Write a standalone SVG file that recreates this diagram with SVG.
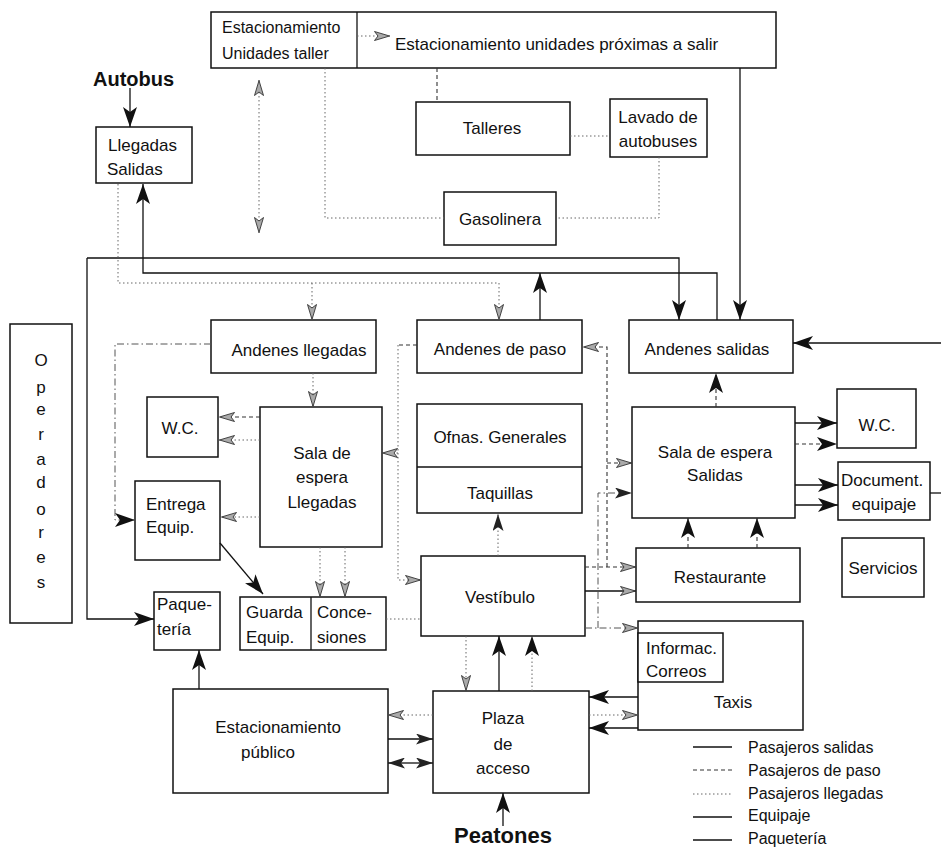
<svg xmlns="http://www.w3.org/2000/svg" width="941" height="850" viewBox="0 0 941 850">
<style>
text{font-family:"Liberation Sans",Arial,sans-serif;font-size:17px;fill:#111}
.c{text-anchor:middle}
.bold{font-weight:bold}
.lg{font-size:16px}
.box{fill:#fff;stroke:#111;stroke-width:1.5}
.sep{stroke:#111;stroke-width:1.3;fill:none}
.sol{stroke:#111;stroke-width:1.3;fill:none}
.dot{stroke:#666;stroke-width:1;fill:none;stroke-dasharray:1.5 2.5}
.dsh{stroke:#333;stroke-width:1.1;fill:none;stroke-dasharray:4 3}
.dd{stroke:#555;stroke-width:1;fill:none;stroke-dasharray:7 3 1.5 3}
</style>
<defs>
<marker id="b" viewBox="0 0 20 14" refX="20" refY="7" markerWidth="20" markerHeight="14" orient="auto" markerUnits="userSpaceOnUse"><path d="M0,0 L20,7 L0,14 L5,7 z" fill="#111"/></marker>
<marker id="s" viewBox="0 0 17 11" refX="17" refY="5.5" markerWidth="17" markerHeight="11" orient="auto" markerUnits="userSpaceOnUse"><path d="M0,0 L17,5.5 L0,11 L4,5.5 z" fill="#222"/></marker>
<marker id="l" viewBox="0 0 16 10" refX="16" refY="5" markerWidth="16" markerHeight="10" orient="auto" markerUnits="userSpaceOnUse"><path d="M0.5,0.5 L15.5,5 L0.5,9.5 L4,5 z" fill="#aaa" stroke="#333" stroke-width="0.9"/></marker>
<marker id="lr" viewBox="0 0 16 10" refX="0" refY="5" markerWidth="16" markerHeight="10" orient="auto" markerUnits="userSpaceOnUse"><path d="M15.5,0.5 L0.5,5 L15.5,9.5 L12,5 z" fill="#aaa" stroke="#333" stroke-width="0.9"/></marker>
</defs>

<g id="top-parking">
<rect class="box" x="211" y="12" width="565" height="56"/>
<line class="sep" x1="357" y1="12" x2="357" y2="68"/>
<text x="222" y="33" style="font-size:16px">Estacionamiento</text>
<text x="222" y="59" style="font-size:16px">Unidades taller</text>
<text x="395" y="50">Estacionamiento unidades próximas a salir</text>
</g>
<g id="autobus"><text class="bold" x="93" y="86" style="font-size:20px">Autobus</text></g>
<g id="llegadas-salidas">
<rect class="box" x="96" y="127" width="96" height="56"/>
<text x="108" y="151">Llegadas</text>
<text x="107" y="175">Salidas</text>
</g>
<g id="talleres"><rect class="box" x="416" y="102" width="154" height="53"/><text class="c" x="492" y="134">Talleres</text></g>
<g id="lavado"><rect class="box" x="610" y="99" width="97" height="58"/><text class="c" x="658" y="123">Lavado de</text><text class="c" x="658" y="147">autobuses</text></g>
<g id="gasolinera"><rect class="box" x="444" y="192" width="112" height="53"/><text class="c" x="500" y="225">Gasolinera</text></g>

<g id="operadores">
<rect class="box" x="10" y="324" width="62" height="299"/>
<text class="c" x="41" y="366">O</text><text class="c" x="41" y="393">p</text><text class="c" x="41" y="415">e</text><text class="c" x="41" y="440">r</text><text class="c" x="41" y="465">a</text><text class="c" x="41" y="488">d</text><text class="c" x="41" y="515">o</text><text class="c" x="41" y="538">r</text><text class="c" x="41" y="563">e</text><text class="c" x="41" y="588">s</text>
</g>

<g id="andenes-llegadas"><rect class="box" x="211" y="320" width="165" height="53"/><text class="c" x="299" y="356">Andenes llegadas</text></g>
<g id="andenes-paso"><rect class="box" x="417" y="320" width="165" height="53"/><text class="c" x="500" y="355">Andenes de paso</text></g>
<g id="andenes-salidas"><rect class="box" x="629" y="320" width="164" height="53"/><text class="c" x="707" y="355">Andenes salidas</text></g>

<g id="wc-left"><rect class="box" x="147" y="397" width="71" height="60"/><text class="c" x="180" y="434">W.C.</text></g>
<g id="sala-llegadas"><rect class="box" x="260" y="407" width="122" height="140"/><text class="c" x="322" y="459">Sala de</text><text class="c" x="322" y="483">espera</text><text class="c" x="322" y="508">Llegadas</text></g>
<g id="entrega"><rect class="box" x="135" y="481" width="85" height="79"/><text x="146" y="510">Entrega</text><text x="146" y="533">Equip.</text></g>

<g id="ofnas-taquillas"><rect class="box" x="417" y="404" width="165" height="109"/><line class="sep" x1="417" y1="467" x2="582" y2="467"/><text class="c" x="500" y="443">Ofnas. Generales</text><text class="c" x="500" y="499">Taquillas</text></g>
<g id="vestibulo"><rect class="box" x="421" y="556" width="164" height="80"/><text class="c" x="500" y="603">Vestíbulo</text></g>

<g id="sala-salidas"><rect class="box" x="632" y="407" width="163" height="111"/><text class="c" x="715" y="458">Sala de espera</text><text class="c" x="715" y="481">Salidas</text></g>
<g id="wc-right"><rect class="box" x="837" y="389" width="79" height="59"/><text class="c" x="877" y="431">W.C.</text></g>
<g id="document"><rect class="box" x="838" y="462" width="92" height="58"/><text x="841" y="486">Document.</text><text class="c" x="884" y="510">equipaje</text></g>
<g id="servicios"><rect class="box" x="842" y="538" width="82" height="59"/><text class="c" x="883" y="574">Servicios</text></g>
<g id="restaurante"><rect class="box" x="636" y="548" width="164" height="54"/><text class="c" x="720" y="583">Restaurante</text></g>

<g id="paqueteria"><rect class="box" x="154" y="592" width="66" height="58"/><text x="157" y="610">Paque-</text><text x="157" y="635">tería</text></g>
<g id="guarda-concesiones"><rect class="box" x="240" y="597" width="146" height="53"/><line class="sep" x1="311" y1="597" x2="311" y2="650"/><text x="246" y="618">Guarda</text><text x="246" y="643">Equip.</text><text x="317" y="618">Conce-</text><text x="317" y="643">siones</text></g>
<g id="taxis"><rect class="box" x="638" y="621" width="165" height="109"/><rect class="box" x="638" y="633" width="85" height="49"/><text x="646" y="654">Informac.</text><text x="646" y="677">Correos</text><text class="c" x="733" y="708">Taxis</text></g>
<g id="est-publico"><rect class="box" x="173" y="689" width="215" height="104"/><text class="c" x="278" y="733">Estacionamiento</text><text class="c" x="268" y="758">público</text></g>
<g id="plaza"><rect class="box" x="433" y="691" width="156" height="102"/><text class="c" x="503" y="724">Plaza</text><text class="c" x="503" y="750">de</text><text class="c" x="503" y="774">acceso</text></g>
<g id="peatones"><text class="bold c" x="503" y="843" style="font-size:22px">Peatones</text></g>

<g id="connectors">
<path class="dot" d="M357,36 H390" marker-end="url(#l)"/>
<path class="dot" d="M259,80 V233" marker-start="url(#lr)" marker-end="url(#l)"/>
<path class="dot" d="M325,68 V218 H444"/>
<path class="dsh" d="M437,68 V102"/>
<path class="dot" d="M570,136 H610"/>
<path class="dot" d="M659,157 V218 H556"/>
<path class="sol" d="M740,68 V320" marker-end="url(#b)"/>
<path class="sol" d="M130,88 V127" marker-end="url(#b)"/>
<path class="sol" d="M87,258 H679 V320" marker-end="url(#b)"/>
<path class="sol" d="M87,258 V619 H154" marker-end="url(#b)"/>
<path class="sol" d="M717,320 V273 H143 V184" marker-end="url(#b)"/>
<path class="sol" d="M540,320 V273" marker-end="url(#b)"/>
<path class="dot" d="M118,184 V283 H499 V320" marker-end="url(#l)"/>
<path class="dot" d="M312,283 V320" marker-end="url(#l)"/>
<path class="dd" d="M211,344 H115 V520 H135" marker-end="url(#b)"/>
<path class="dot" d="M313,373 V407" marker-end="url(#l)"/>
<path class="dsh" d="M260,417 H219" marker-end="url(#l)"/>
<path class="dot" d="M260,440 H219" marker-end="url(#l)"/>
<path class="dot" d="M260,517 H221" marker-end="url(#l)"/>
<path class="sol" d="M220,543 L263,594" marker-end="url(#b)"/>
<path class="dot" d="M320,547 V597" marker-end="url(#l)"/>
<path class="dot" d="M345,547 V597" marker-end="url(#l)"/>
<path class="dsh" d="M417,345 H398"/>
<path class="dot" d="M398,345 V580 H421" marker-end="url(#l)"/>
<path class="dot" d="M398,453 H382" marker-end="url(#l)"/>
<path class="dot" d="M386,619 H421"/>
<path class="dot" d="M498,556 V514" marker-end="url(#s)"/>
<path class="dsh" d="M607,567 V347 H583" marker-end="url(#l)"/>
<path class="dsh" d="M607,463 H632" marker-end="url(#l)"/>
<path class="dsh" d="M585,567 H636" marker-end="url(#l)"/>
<path class="dd" d="M598,628 V493 H632" marker-end="url(#s)"/>
<path class="dd" d="M585,628 H638" marker-end="url(#l)"/>
<path class="sol" d="M585,591 H636" marker-end="url(#l)"/>
<path class="dsh" d="M716,407 V373" marker-end="url(#b)"/>
<path class="dsh" d="M688,548 V518" marker-end="url(#b)"/>
<path class="dsh" d="M757,548 V518" marker-end="url(#b)"/>
<path class="sol" d="M795,423 H837" marker-end="url(#b)"/>
<path class="dsh" d="M795,444 H837" marker-end="url(#b)"/>
<path class="sol" d="M795,485 H838" marker-end="url(#b)"/>
<path class="sol" d="M795,505 H838" marker-end="url(#b)"/>
<path class="sol" d="M930,493 H941"/>
<path class="sol" d="M941,343 H793" marker-end="url(#b)"/>
<path class="sol" d="M199,689 V650" marker-end="url(#b)"/>
<path class="dot" d="M433,715 H388" marker-end="url(#l)"/>
<path class="sol" d="M388,739 H433" marker-end="url(#s)"/>
<path class="sol" d="M410,763 H388" marker-end="url(#s)"/>
<path class="sol" d="M410,763 H433" marker-end="url(#s)"/>
<path class="dot" d="M466,636 V691" marker-end="url(#l)"/>
<path class="sol" d="M499,691 V636" marker-end="url(#b)"/>
<path class="dot" d="M532,691 V636" marker-end="url(#b)"/>
<path class="sol" d="M638,697 H589" marker-end="url(#b)"/>
<path class="sol" d="M638,728 H589" marker-end="url(#b)"/>
<path class="dot" d="M589,715 H638" marker-end="url(#l)"/>
<path class="sol" d="M503,826 V793" marker-end="url(#b)"/>
</g>

<g id="legend">
<line class="sol" x1="693" y1="747" x2="732" y2="747"/>
<line class="dsh" x1="693" y1="770" x2="732" y2="770"/>
<line class="dot" x1="693" y1="794" x2="732" y2="794"/>
<line class="sol" x1="693" y1="817" x2="732" y2="817" style="stroke-width:1.6"/>
<line class="sol" x1="693" y1="840" x2="732" y2="840"/>
<text class="lg" x="748" y="753">Pasajeros salidas</text>
<text class="lg" x="748" y="776">Pasajeros de paso</text>
<text class="lg" x="748" y="799">Pasajeros llegadas</text>
<text class="lg" x="748" y="821">Equipaje</text>
<text class="lg" x="748" y="844">Paquetería</text>
</g>
</svg>
